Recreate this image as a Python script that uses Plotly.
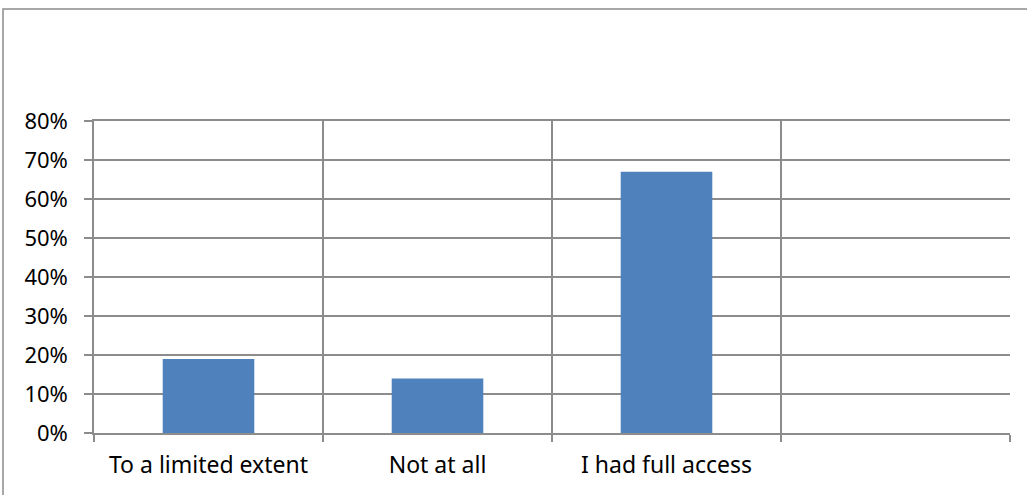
import plotly.graph_objects as go

categories = ["To a limited extent", "Not at all", "I had full access", " "]
values = [0.19, 0.14, 0.67, None]
y_tickvals = [0, 0.1, 0.2, 0.3, 0.4, 0.5, 0.6, 0.7, 0.8]
y_ticktext = ["0%", "10%", "20%", "30%", "40%", "50%", "60%", "70%", "80%"]

W, H = 1027, 495
L, T = 94, 121
R = W - 1010
B = H - 433
pw, ph = W - L - R, H - T - B

fig = go.Figure(go.Bar(x=categories, y=values, marker_color="#4F81BD",
                       marker_line_width=0, width=0.4))

grid = "#8C8C8C"
font = dict(family="Noto Sans, Open Sans, sans-serif", size=22, color="#000000")
xfont = dict(family="Noto Sans, Open Sans, sans-serif", size=23, color="#000000")
fig.update_layout(
    width=W, height=H, margin=dict(l=L, r=R, t=T, b=B, autoexpand=False),
    paper_bgcolor="white", plot_bgcolor="white", showlegend=False, font=font,
    xaxis=dict(type="category", tickson="boundaries", showgrid=True, gridcolor=grid,
               gridwidth=1.5, ticks="outside", ticklen=7, tickcolor=grid, tickwidth=1.5,
               showline=True, linecolor=grid, linewidth=1.5, mirror=True,
               range=[-0.5, 3.5], ticklabelstandoff=11, tickfont=xfont),
    yaxis=dict(range=[0, 0.8], tickvals=y_tickvals, ticktext=y_ticktext, showgrid=True,
               gridcolor=grid, gridwidth=1.5, ticks="outside", ticklen=8, tickcolor=grid,
               tickwidth=1.5, showline=True, linecolor=grid, linewidth=1.5,
               zeroline=False, ticklabelstandoff=12, tickfont=font),
)

x0 = (3 - L) / pw
x1 = (W + 40 - L) / pw
y1 = 1 + (T - 9) / ph
y0 = -(H + 40 - (T + ph)) / ph
fig.add_shape(type="rect", xref="paper", yref="paper", x0=x0, x1=x1, y0=y0, y1=y1,
              line=dict(color="#8C8C8C", width=1.5), fillcolor="rgba(0,0,0,0)", layer="below")

fig.write_html("out.html", config={"displayModeBar": False},
               post_script="document.body.style.margin='0';")
